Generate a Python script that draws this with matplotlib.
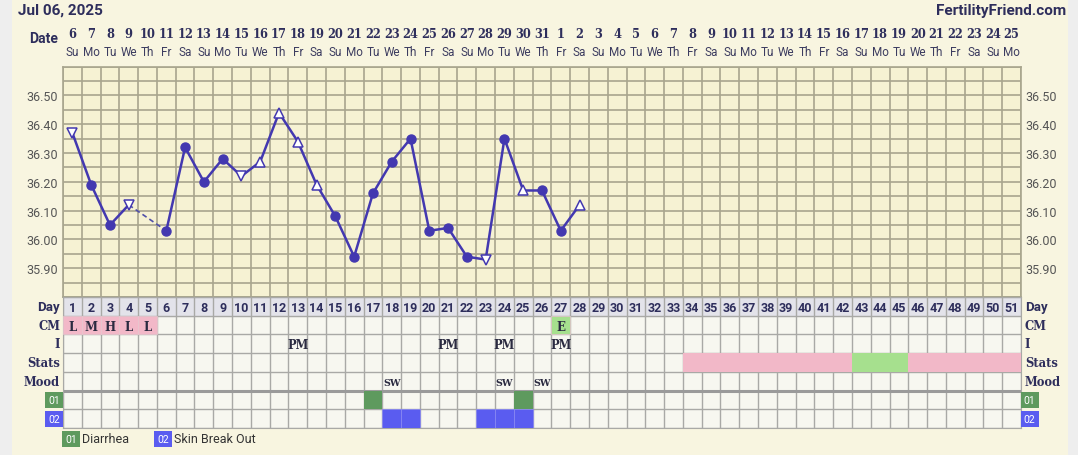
import matplotlib
matplotlib.use('Agg')
import matplotlib.pyplot as plt
import numpy as np
import pandas as pd
from matplotlib.patches import Rectangle
from matplotlib.transforms import blended_transform_factory as blend

# --- data ---
start_date = "2025-07-06"
n_days = 51
temps = [36.37, 36.19, 36.05, 36.12, np.nan, 36.03, 36.32, 36.20, 36.28, 36.22,
         36.27, 36.44, 36.34, 36.19, 36.08, 35.94, 36.16, 36.27, 36.35, 36.03,
         36.04, 35.94, 35.93, 36.35, 36.17, 36.17, 36.03, 36.12]
marks = ['v', 'o', 'o', 'v', '', 'o', 'o', 'o', 'o', 'v',
         '^', '^', '^', '^', 'o', 'o', 'o', 'o', 'o', 'o',
         'o', 'o', 'v', 'o', '^', 'o', 'o', '^']

cm_days = [1, 2, 3, 4, 5, 27]
cm_vals = ['L', 'M', 'H', 'L', 'L', 'E']
i_days = [13, 21, 24, 27]
i_vals = ['PM', 'PM', 'PM', 'PM']
stats_pink = [34, 35, 36, 37, 38, 39, 40, 41, 42, 46, 47, 48, 49, 50, 51]
stats_green = [43, 44, 45]
mood_days = [18, 24, 26]
mood_vals = ['SW', 'SW', 'SW']
sym01_days = [17, 25]
sym02_days = [18, 19, 23, 24, 25]
row_labels = ['Day', 'CM', 'I', 'Stats', 'Mood']
sym_names = ['Diarrhea', 'Skin Break Out']

# --- colours ---
navy = '#2e2e5c'
line_c = '#4338b0'
panel = '#f8f5e0'
chart_bg = '#f6f2d3'
grid_c = '#a8a58e'
cell_bg = '#f7f7f0'
cell_grid = '#a9a9a6'
day_bg = '#e3e3ea'
pink = '#f2b8c8'
green_light = '#a6e08e'
green01 = '#5e9a5e'
blue02 = '#5a5cf0'
slab = 'DejaVu Serif'
sans = 'Roboto'

W, H = 1078, 456
fig = plt.figure(figsize=(W / 100, H / 100), dpi=100)
fig.patch.set_facecolor('#eeeeee')
fig.add_artist(Rectangle((12 / W, 0), 1056 / W, 1, transform=fig.transFigure,
                         fc=panel, ec='none', zorder=-10))

ax = fig.add_axes([63 / W, 1 - 298 / H, 958 / W, 230.3 / H])
tab = fig.add_axes([63 / W, 1 - 429 / H, 958 / W, 131 / H])

days = np.arange(1, n_days + 1)
dates = pd.date_range(start_date, periods=n_days)

# --- temperature chart ---
ax.set_facecolor(chart_bg)
ax.set_xlim(0.5, n_days + 0.5)
ax.set_ylim(35.80, 36.60)
ax.set_xticks([])
ax.set_xticks(np.arange(0.5, n_days + 1), minor=True)
major = np.round(np.arange(35.90, 36.51, 0.10), 2)
ax.set_yticks(major)
ax.set_yticklabels([f'{v:.2f}' for v in major])
ax.set_yticks(np.arange(35.80, 36.601, 0.05), minor=True)
ax.grid(which='both', color=grid_c, lw=1.2, zorder=0)
ax.tick_params(which='both', length=0, labelright=True, pad=3.5,
               labelsize=9, labelcolor='#555555')
for lab in ax.get_yticklabels():
    lab.set_fontfamily(sans)
for s in ax.spines.values():
    s.set_color(grid_c)
    s.set_linewidth(1.2)

t = np.array(temps)
td = days[:len(t)]
ax.plot(td, t, color=line_c, lw=1.8, zorder=3)
# dashed bridge over missing days
valid = np.where(~np.isnan(t))[0]
for a, b in zip(valid[:-1], valid[1:]):
    if b - a > 1:
        ax.plot([td[a], td[b]], [t[a], t[b]], color='#5050a8', lw=1.2,
                ls=(0, (3, 2)), zorder=3)
for d, v, m in zip(td, t, marks):
    if not m:
        continue
    if m == 'o':
        ax.plot(d, v, 'o', ms=6.5, color=line_c, zorder=4)
    else:
        ax.plot(d, v, m, ms=7.5, mfc='white', mec=line_c, mew=1.1, zorder=4)

# date header
tr = blend(ax.transData, fig.transFigure)
for d, dt in zip(days, dates):
    ax.text(d, 1 - 34 / H, str(dt.day), transform=tr, ha='center', va='center',
            fontsize=8.3, fontweight='bold', family=slab, color=navy)
    ax.text(d, 1 - 52 / H, dt.strftime('%a')[:2], transform=tr, ha='center',
            va='center', fontsize=8.5, family=sans, color='#3c3c60')
fig.text(58 / W, 1 - 39 / H, 'Date', ha='right', va='center', fontsize=10,
         fontweight='bold', family=sans, color=navy)
fig.text(18 / W, 1 - 11 / H, dates[0].strftime('%b %d, %Y'), ha='left',
         va='center', fontsize=11, fontweight='bold', family=sans, color=navy)
fig.text(1066 / W, 1 - 11 / H, 'FertilityFriend.com', ha='right', va='center',
         fontsize=11, fontweight='bold', family=sans, color=navy)

# --- data table ---
n_rows = 7
tab.set_facecolor(cell_bg)
tab.set_xlim(0.5, n_days + 0.5)
tab.set_ylim(n_rows, 0)
tab.axhspan(0, 1, color=day_bg, zorder=0)
tab.set_xticks([])
tab.set_yticks([])
tab.set_xticks(np.arange(0.5, n_days + 1), minor=True)
tab.set_yticks(np.arange(0, n_rows + 1), minor=True)
tab.grid(which='minor', color=cell_grid, lw=1.0, zorder=1)
tab.tick_params(which='both', length=0)
for s in tab.spines.values():
    s.set_color(cell_grid)
tab.axhline(5, color='#9a9a9a', lw=2.2, zorder=2)

cm_cols = [green_light if v == 'E' else pink for v in cm_vals]
tab.bar(cm_days, 1, bottom=1, width=1, color=cm_cols, edgecolor='#e8c8d0',
        lw=0.5, zorder=3)
tab.bar(stats_pink, 1, bottom=3, width=1, color=pink, zorder=3)
tab.bar(stats_green, 1, bottom=3, width=1, color=green_light, zorder=3)
tab.bar(sym01_days, 1, bottom=5, width=1, color=green01, zorder=3)
tab.bar(sym02_days, 1, bottom=6, width=1, color=blue02, edgecolor='#8c8cf5',
        lw=0.5, zorder=3)

for d in days:
    tab.text(d, 0.55, str(d), ha='center', va='center', fontsize=9,
             fontweight='bold', family=sans, color=navy, zorder=4)
for d, v in zip(cm_days, cm_vals):
    tab.text(d, 1.55, v, ha='center', va='center', fontsize=8.5,
             fontweight='bold', family=slab, color='#2a2a40', zorder=4)
for d, v in zip(i_days, i_vals):
    tab.text(d, 2.55, v, ha='center', va='center', fontsize=8.3,
             fontweight='bold', family=slab, color='#2a2a40', zorder=4)
for d, v in zip(mood_days, mood_vals):
    tab.text(d, 4.55, v, ha='center', va='center', fontsize=6.8,
             fontweight='bold', family=slab, color='#2a2a40', zorder=4)

trt = blend(tab.transAxes, tab.transData)
for r, lab in enumerate(row_labels):
    fam = sans if lab == 'Day' else slab
    fs = 9.5 if lab == 'Day' else 8.3
    tab.text(-0.003, r + 0.5, lab, transform=trt, ha='right', va='center',
             fontsize=fs, fontweight='bold', family=fam, color=navy)
    tab.text(1.004, r + 0.5, lab, transform=trt, ha='left', va='center',
             fontsize=fs, fontweight='bold', family=fam, color=navy)
badges = [('01', green01), ('02', blue02)]
for k, (code, col) in enumerate(badges):
    y = 5.5 + k
    box = dict(boxstyle='square,pad=0.3', fc=col, ec='none')
    tab.text(-0.003, y, code, transform=trt, ha='right', va='center',
             fontsize=7.5, family=sans, color='white', bbox=box)
    tab.text(1.003, y, code, transform=trt, ha='left', va='center',
             fontsize=7.5, family=sans, color='white', bbox=box)

# legend under the table
leg_x = [65, 157]
for (code, col), name, x in zip(badges, sym_names, leg_x):
    fig.text(x / W, 1 - 440 / H, code, ha='left', va='center', fontsize=7.5,
             family=sans, color='white',
             bbox=dict(boxstyle='square,pad=0.3', fc=col, ec='none'))
    fig.text((x + 17) / W, 1 - 440 / H, name, ha='left', va='center',
             fontsize=9, family=sans, color='#333333')

fig.savefig('out.png', dpi=100, facecolor=fig.get_facecolor())
